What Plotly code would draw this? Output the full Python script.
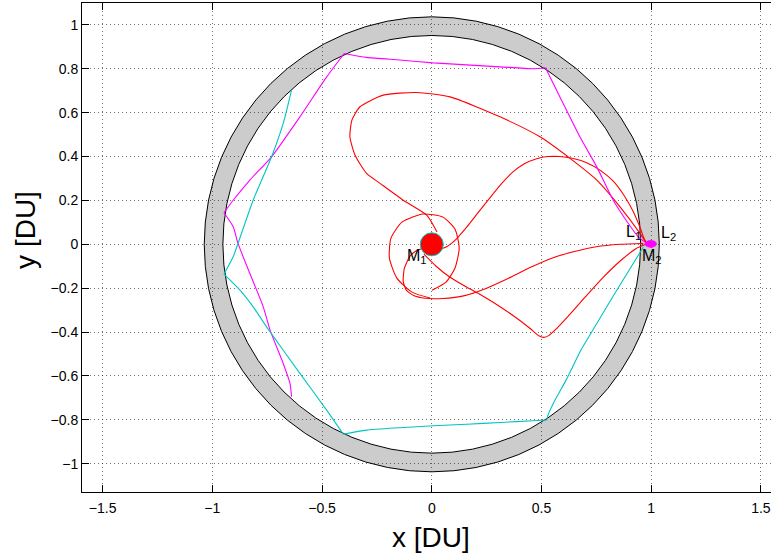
import plotly.graph_objects as go

# ---------------- data (DU) ----------------
xtick_vals = [-1.5, -1, -0.5, 0, 0.5, 1, 1.5]
xtick_text = ["\u22121.5", "\u22121", "\u22120.5", "0", "0.5", "1", "1.5"]
ytick_vals = [1, 0.8, 0.6, 0.4, 0.2, 0, -0.2, -0.4, -0.6, -0.8, -1]
ytick_text = ["1", "0.8", "0.6", "0.4", "0.2", "0", "\u22120.2", "\u22120.4", "\u22120.6", "\u22120.8", "\u22121"]

ring_inner_r = 0.952
ring_outer_r = 1.037

m1_x, m1_y = 0.0, 0.0
m2_x, m2_y = 0.998, 0.002

magenta_x = [0.972, 0.941, 0.896, 0.827, 0.752, 0.675, 0.584, 0.531, 0.519,
             0.463, 0.311, 0.159, 0.007, -0.145, -0.297, -0.399,
             -0.479, -0.601, -0.730, -0.829, -0.905, -0.947,
             -0.905, -0.883, -0.829, -0.768, -0.737, -0.677, -0.646, -0.639]
magenta_y = [0.010, 0.034, 0.095, 0.201, 0.353, 0.490, 0.672, 0.779, 0.805,
             0.800, 0.809, 0.818, 0.827, 0.840, 0.852, 0.870,
             0.763, 0.581, 0.399, 0.293, 0.201, 0.144,
             0.080, 0.004, -0.133, -0.285, -0.391, -0.543, -0.634, -0.695]
magenta_cusps = [8, 15, 21]

cyan_x = [0.964, 0.843, 0.752, 0.680, 0.612, 0.562, 0.530, 0.524,
          0.463, 0.311, 0.159, 0.007, -0.145, -0.297, -0.403,
          -0.479, -0.601, -0.753, -0.814, -0.874, -0.947,
          -0.905, -0.883, -0.814, -0.730, -0.677, -0.639]
cyan_y = [-0.013, -0.209, -0.361, -0.482, -0.619, -0.710, -0.778, -0.801,
          -0.804, -0.812, -0.820, -0.827, -0.836, -0.847, -0.866,
          -0.756, -0.588, -0.376, -0.285, -0.209, -0.136,
          -0.057, 0.004, 0.201, 0.399, 0.551, 0.703]
cyan_cusps = [7, 14, 20]

redA_x = [0.024, -0.023, -0.130, -0.236, -0.297, -0.350, -0.373, -0.364, -0.327,
          -0.221, -0.069, 0.083, 0.311, 0.493, 0.630, 0.752, 0.858, 0.949, 0.979]
redA_y = [0.056, 0.133, 0.201, 0.278, 0.323, 0.407, 0.490, 0.566, 0.627,
          0.680, 0.692, 0.672, 0.581, 0.490, 0.392, 0.293, 0.171, 0.050, 0.004]

redB_x = [0.028, 0.068, 0.113, 0.159, 0.210, 0.265, 0.320, 0.370, 0.420, 0.478,
          0.530, 0.584, 0.640, 0.706, 0.770, 0.827, 0.875, 0.918, 0.948, 0.968, 0.980]
redB_y = [-0.026, -0.011, 0.025, 0.078, 0.143, 0.212, 0.279, 0.330, 0.366, 0.390,
          0.400, 0.400, 0.392, 0.372, 0.336, 0.288, 0.225, 0.150, 0.080, 0.025, 0.003]

redC_x = [0.964, 0.860, 0.750, 0.650, 0.550, 0.450, 0.350, 0.250, 0.150, 0.050,
          -0.030, -0.080, -0.115, -0.130, -0.125, -0.100, -0.069, -0.045]
redC_y = [0.004, 0.000, -0.011, -0.033, -0.062, -0.105, -0.155, -0.200, -0.234, -0.247,
          -0.246, -0.235, -0.210, -0.170, -0.110, -0.055, -0.028, -0.020]

redD_x = [-0.036, 0.020, 0.080, 0.160, 0.240, 0.320, 0.400, 0.450, 0.490, 0.510,
          0.535, 0.570, 0.620, 0.700, 0.780, 0.860, 0.930, 0.975]
redD_y = [-0.045, -0.100, -0.148, -0.196, -0.240, -0.290, -0.346, -0.385, -0.418, -0.424,
          -0.415, -0.383, -0.330, -0.240, -0.152, -0.075, -0.020, 0.000]

redE_x = [-0.008, -0.090, -0.159, -0.193, -0.186, -0.136, -0.040, 0.051, 0.106,
          0.125, 0.106, 0.065, 0.001]
redE_y = [-0.245, -0.218, -0.154, -0.063, 0.028, 0.101, 0.138, 0.124, 0.069,
          -0.017, -0.108, -0.172, -0.209]

# ---------------- figure ----------------
RED = "#ff0000"
MAG = "#ff00ff"
CYA = "#00c4c4"
FONT = "Liberation Sans, Arial, sans-serif"

fig = go.Figure()


def add_line(xs, ys, color):
    fig.add_trace(go.Scatter(x=xs, y=ys, mode="lines",
                             line=dict(color=color, width=1.1, shape="spline", smoothing=0.6),
                             hoverinfo="skip", showlegend=False))


for xs, ys in [(redA_x, redA_y), (redB_x, redB_y), (redC_x, redC_y),
               (redD_x, redD_y), (redE_x, redE_y)]:
    add_line(xs, ys, RED)


def add_legs(xs, ys, cusps, color):
    bounds = [0] + cusps + [len(xs) - 1]
    for a, b in zip(bounds[:-1], bounds[1:]):
        add_line(xs[a:b + 1], ys[a:b + 1], color)


add_legs(magenta_x, magenta_y, magenta_cusps, MAG)
add_legs(cyan_x, cyan_y, cyan_cusps, CYA)

fig.add_trace(go.Scatter(x=[m1_x], y=[m1_y], mode="markers",
                         marker=dict(size=23, color=RED, line=dict(color=CYA, width=1)),
                         hoverinfo="skip", showlegend=False))

shapes = [
    dict(type="circle", xref="x", yref="y", layer="below",
         x0=-ring_outer_r, x1=ring_outer_r, y0=-ring_outer_r, y1=ring_outer_r,
         fillcolor="#cccccc", line=dict(color="black", width=1)),
    dict(type="circle", xref="x", yref="y", layer="below",
         x0=-ring_inner_r, x1=ring_inner_r, y0=-ring_inner_r, y1=ring_inner_r,
         fillcolor="white", line=dict(color="black", width=1)),
    dict(type="circle", xref="x", yref="y", layer="above",
         x0=m2_x - 0.027, x1=m2_x + 0.027, y0=m2_y - 0.016, y1=m2_y + 0.016,
         fillcolor=MAG, line=dict(color=MAG, width=0.5)),
]

lab_font = dict(family=FONT, size=16, color="black")
annotations = [
    dict(x=-0.069, y=-0.057, xref="x", yref="y", text="M<sub>1</sub>", showarrow=False, font=lab_font),
    dict(x=1.004, y=-0.056, xref="x", yref="y", text="M<sub>2</sub>", showarrow=False, font=lab_font),
    dict(x=0.919, y=0.053, xref="x", yref="y", text="L<sub>1</sub>", showarrow=False, font=lab_font),
    dict(x=1.081, y=0.049, xref="x", yref="y", text="L<sub>2</sub>", showarrow=False, font=lab_font),
    dict(x=0.5065, y=-0.094, xref="paper", yref="paper", xanchor="center", yanchor="middle",
         text="x [DU]", showarrow=False, font=dict(family=FONT, size=28, color="black")),
    dict(x=-0.0813, y=0.536, xref="paper", yref="paper", xanchor="center", yanchor="middle",
         text="y [DU]", showarrow=False, textangle=-90, font=dict(family=FONT, size=28, color="black")),
]

axis_common = dict(showgrid=True, gridcolor="rgba(0,0,0,0.55)", gridwidth=1, griddash="1px,3px",
                   zeroline=False, showline=True, linecolor="black", linewidth=1,
                   ticks="inside", ticklen=7, tickcolor="black", tickwidth=1, automargin=False,
                   tickfont=dict(family=FONT, size=14, color="black"))

fig.update_layout(
    width=771, height=559,
    margin=dict(l=82, r=0, t=3, b=67),
    paper_bgcolor="white", plot_bgcolor="white",
    shapes=shapes, annotations=annotations,
    xaxis=dict(range=[-1.594, 1.546], tickvals=xtick_vals, ticktext=xtick_text, mirror="ticks",
               ticklabelstandoff=3, **axis_common),
    yaxis=dict(range=[-1.129, 1.100], tickvals=ytick_vals, ticktext=ytick_text, mirror=False, **axis_common),
)

fig.write_html("out.html", config={"displayModeBar": False},
               post_script="document.body.style.margin='0px';document.body.style.overflow='hidden';")
